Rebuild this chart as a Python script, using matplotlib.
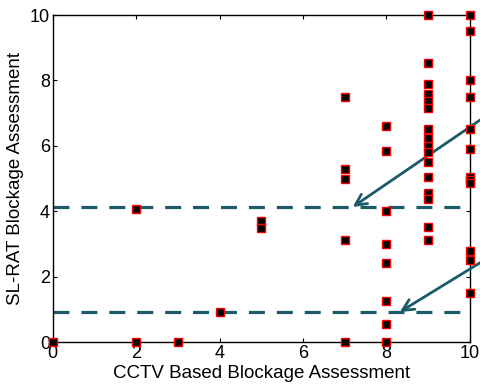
import numpy as np
import matplotlib
matplotlib.use('Agg')
import matplotlib.pyplot as plt

plt.rcParams['font.family'] = ['Liberation Sans', 'DejaVu Sans']
plt.rcParams['lines.scale_dashes'] = False

# CCTV score -> SL-RAT scores observed at that score
cctv = [0, 2, 2, 3, 4, 5, 5,
        7, 7, 7, 7, 7,
        8, 8, 8, 8, 8, 8, 8, 8,
        9, 9, 9, 9, 9, 9, 9, 9, 9, 9, 9, 9, 9, 9, 9, 9,
        10, 10, 10, 10, 10, 10, 10, 10, 10, 10, 10, 10]
slrat = [0, 0, 4.07, 0, 0.92, 3.7, 3.5,
         7.5, 5.3, 5.0, 3.12, 0,
         6.6, 5.85, 4.0, 3.0, 2.42, 1.25, 0.55, 0,
         10, 8.53, 7.9, 7.58, 7.37, 7.15, 6.5, 6.24, 6.0, 5.8, 5.5, 5.05, 4.56, 4.37, 3.52, 3.12,
         10, 9.5, 8.0, 7.5, 6.5, 5.9, 5.05, 4.97, 4.87, 2.78, 2.52, 1.5]

thresholds = [4.13, 0.92]
arrow_tips = [(7.19, 4.13), (8.32, 0.92)]
arrow_tails = [(11.44, 7.83), (11.44, 3.36)]

teal = '#1b5b68'

fig = plt.figure(figsize=(4.8, 3.9), dpi=100)
ax = fig.add_axes([0.110, 0.123, 0.869, 0.8385])

for t in thresholds:
    ax.plot([0, 10], [t, t], color=teal, lw=2.3, dashes=(11.5, 8.6), zorder=2)

ax.plot(cctv, slrat, linestyle='none', marker='s', markersize=6,
        markerfacecolor='black', markeredgecolor='red', markeredgewidth=1,
        clip_on=False, zorder=4)

for tip, tail in zip(arrow_tips, arrow_tails):
    ax.annotate('', xy=tip, xytext=tail, annotation_clip=False,
                arrowprops=dict(arrowstyle='->,head_length=0.8,head_width=0.4',
                                color=teal, lw=2, shrinkA=0, shrinkB=0))

ax.set_xlim(0, 10)
ax.set_ylim(0, 10)
ax.set_xticks(np.arange(0, 11, 2))
ax.set_yticks(np.arange(0, 11, 2))
ax.tick_params(direction='in', length=3, width=0.8, labelsize=13,
               top=True, right=True, pad=2)
for s in ax.spines.values():
    s.set_linewidth(1)
ax.set_xlabel('CCTV Based Blockage Assessment', fontsize=13.5, labelpad=2)
ax.set_ylabel('SL-RAT Blockage Assessment', fontsize=13.5, labelpad=4)

fig.savefig('out.png', dpi=100)
